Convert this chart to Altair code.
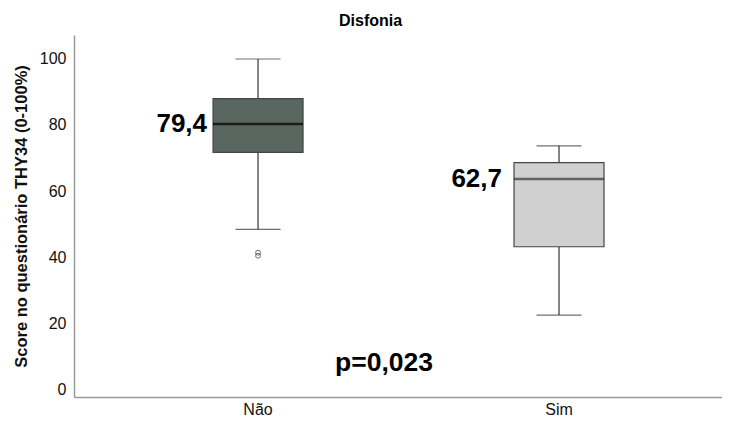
import altair as alt
import pandas as pd

groups = ["Não", "Sim"]
q1 = [71.7, 43.1]
median = [80.3, 63.6]
q3 = [88.0, 68.6]
lower = [48.4, 22.4]
upper = [100.0, 73.7]
fills = ["#5a6660", "#d0d0d0"]
median_labels = ["79,4", "62,7"]

outlier_groups = ["Não", "Não"]
outlier_values = [41.3, 40.4]

p_label = "p=0,023"
p_value_pos = 7.9

df = pd.DataFrame({"g": groups, "q1": q1, "med": median, "q3": q3,
                   "lo": lower, "hi": upper, "fill": fills, "lab": median_labels})
out = pd.DataFrame({"g": outlier_groups, "v": outlier_values})
pdf = pd.DataFrame({"g": ["Não"], "v": [p_value_pos], "lab": [p_label]})

F = "Liberation Sans"
xs = alt.X("g:N", sort=groups, title=None,
           scale=alt.Scale(paddingInner=0.7, paddingOuter=0.4265, align=0.541),
           axis=alt.Axis(labelAngle=0, ticks=False, domainColor="#9a9a9a", domainWidth=1.5,
                         labelFont=F, labelFontSize=16, labelColor="#111", labelPadding=4, grid=False))
ys = alt.Scale(domain=[-2.42, 107.27], nice=False, zero=False)
yax = alt.Axis(values=[0, 20, 40, 60, 80, 100], ticks=False, grid=False,
               domainColor="#9a9a9a", domainWidth=1.5, labelFont=F, labelFontSize=16,
               labelColor="#111", labelPadding=8,
               title="Score no questionário THY34 (0-100%)", titleFont=F, titleFontSize=16.5,
               titleFontWeight="bold", titleColor="#111", titlePadding=10)

base = alt.Chart(df)
whisk = base.mark_rule(color="#333", strokeWidth=1.2).encode(
    x=xs, y=alt.Y("lo:Q", scale=ys, axis=yax), y2="hi:Q")
caps_hi = base.mark_tick(color="#333", thickness=1.2, size=45).encode(
    x=xs, y=alt.Y("hi:Q", scale=ys))
caps_lo = base.mark_tick(color="#333", thickness=1.2, size=45).encode(
    x=xs, y=alt.Y("lo:Q", scale=ys))
box = base.mark_bar(size=90, stroke="#444", strokeWidth=1.2).encode(
    x=xs, y=alt.Y("q1:Q", scale=ys), y2="q3:Q",
    fill=alt.Fill("fill:N", scale=None))
med = base.mark_tick(size=90, thickness=2.5).encode(
    x=xs, y=alt.Y("med:Q", scale=ys),
    color=alt.Color("g:N", scale=alt.Scale(domain=groups, range=["#000000", "#333333"]), legend=None))
lab1 = base.transform_filter(alt.datum.g == groups[0]).mark_text(
    align="right", baseline="middle", dx=-51, font=F, fontSize=26,
    fontWeight="bold", color="#000").encode(
    x=xs, y=alt.Y("med:Q", scale=ys), text="lab:N")
lab2 = base.transform_filter(alt.datum.g == groups[1]).mark_text(
    align="right", baseline="middle", dx=-57, font=F, fontSize=26,
    fontWeight="bold", color="#000").encode(
    x=xs, y=alt.Y("med:Q", scale=ys), text="lab:N")
outs = alt.Chart(out).mark_point(shape="circle", size=24, color="#333", strokeWidth=1, filled=False).encode(
    x=xs, y=alt.Y("v:Q", scale=ys))
ptxt = alt.Chart(pdf).mark_text(align="left", baseline="middle", dx=77, font=F, fontSize=26.5,
                                fontWeight="bold", color="#000").encode(
    x=xs, y=alt.Y("v:Q", scale=ys), text="lab:N")

chart = alt.layer(whisk, caps_hi, caps_lo, box, med, lab1, lab2, outs, ptxt).properties(
    width=648, height=362,
    autosize=alt.AutoSizeParams(type="none"),
    padding={"left": 66, "top": 27, "right": 0, "bottom": 22},
    title=alt.Title("Disfonia", font=F, fontSize=16, fontWeight="bold", color="#000",
                    anchor="start", frame="group", dx=265, offset=6)
).configure_view(stroke=None)

chart.save("out.html", embed_options={"renderer": "svg", "actions": False})
